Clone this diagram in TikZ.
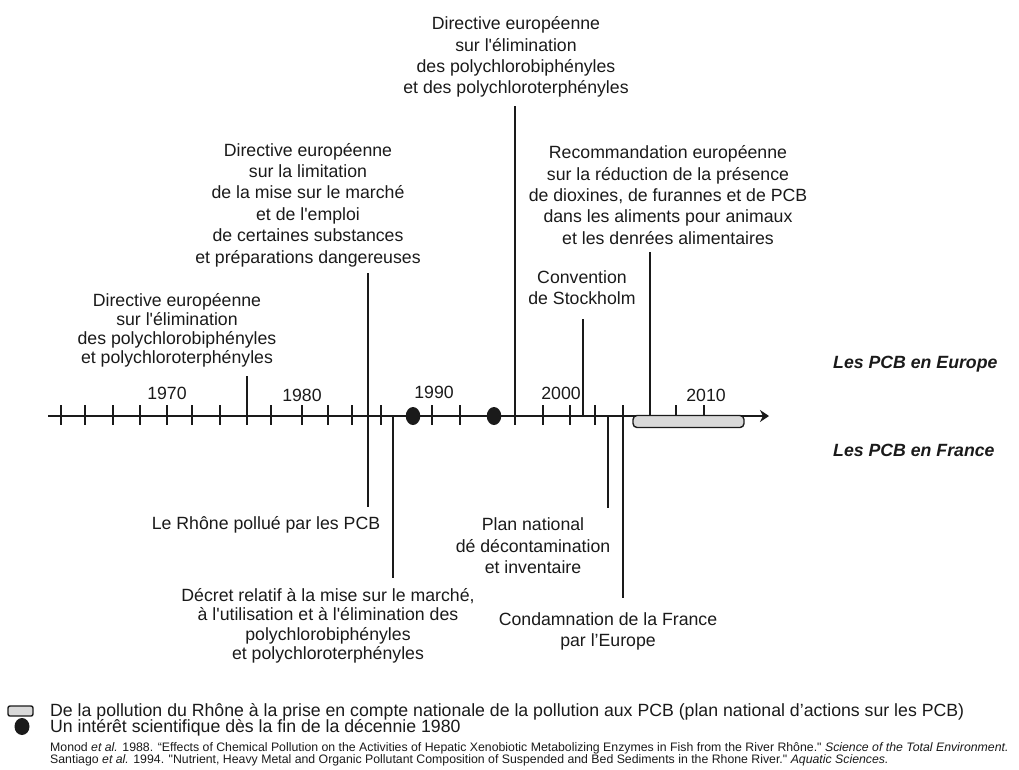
\documentclass[tikz,border=0pt]{standalone}
\usepackage{fontspec}
\newfontfamily\arialf{Liberation Sans}
\usetikzlibrary{arrows.meta,shapes.geometric}
\definecolor{ink}{HTML}{1A1A1A}
\definecolor{boxgray}{HTML}{D9D9D9}
\begin{document}
\begin{tikzpicture}[x=1pt,y=-1pt,
  lbl/.style={align=center, inner sep=0pt, text=ink, font=\arialf\fontsize{17.7}{#1}\selectfont},
  lbl/.default=21.3,
  yr/.style={inner sep=0pt, text=ink, font=\arialf\fontsize{17.7}{21}\selectfont},
  side/.style={inner sep=0pt, anchor=west, text=ink, font=\arialf\bfseries\itshape\fontsize{17.7}{21}\selectfont},
  legtext/.style={inner sep=0pt, anchor=west, text=ink, font=\arialf\fontsize{17.7}{21}\selectfont},
  reftext/.style={inner sep=0pt, anchor=base west, text=ink, font=\arialf\fontsize{12.3}{12}\selectfont},
  tickline/.style={draw=ink, line width=1.5pt},
  evline/.style={draw=ink, line width=1.6pt},
  axisline/.style={draw=ink, line width=1.8pt, -{Stealth[length=9pt,width=12pt]}},
  dotmark/.style={ellipse, fill=ink, minimum width=14.5pt, minimum height=18pt, inner sep=0pt},
  period/.style={draw=ink, fill=boxgray, line width=1.4pt, rounded corners=4pt, inner sep=0pt},
]
\useasboundingbox (0,0) rectangle (1019,769);

% axis
\coordinate (axL) at (48,416);
\coordinate (axR) at (769,416);
\draw[axisline] (axL) -- (axR);

% ticks
\foreach \x in {61,85,113,140,167,192,220,271,302,328,352,381,432,460,543,570,595}
  \draw[tickline] (\x,405) -- (\x,425);
\foreach \x in {676,704}
  \draw[tickline] (\x,405) -- (\x,416);

% event lines
\coordinate (a1) at (247,376); \coordinate (a2) at (247,425);
\coordinate (b1) at (368,273); \coordinate (b2) at (368,507);
\coordinate (g1) at (393,416); \coordinate (g2) at (393,578);
\coordinate (c1) at (515,106); \coordinate (c2) at (515,425);
\coordinate (e1) at (583,319); \coordinate (e2) at (583,416);
\coordinate (h1) at (608,416); \coordinate (h2) at (608,508);
\coordinate (i1) at (623,405); \coordinate (i2) at (623,598);
\coordinate (d1) at (650,252); \coordinate (d2) at (650,416);
\foreach \p in {a,b,g,c,e,h,i,d}
  \draw[evline] (\p1) -- (\p2);

% period box and dots
\node[period, minimum width=111pt, minimum height=12pt] (per) at (688.5,421.5) {};
\node[dotmark] (dot1) at (413,416) {};
\node[dotmark] (dot2) at (494,416) {};

% years
\node[yr] (y1970) at (167,393) {1970};
\node[yr] (y1980) at (302,395) {1980};
\node[yr] (y1990) at (434,392) {1990};
\node[yr] (y2000) at (561,393) {2000};
\node[yr] (y2010) at (706,395) {2010};

% labels above
\node[lbl=19] (labA) at (177,330) {Directive européenne\\sur l'élimination\\des polychlorobiphényles\\et polychloroterphényles};
\node[lbl=21.4] (labB) at (308,205) {Directive européenne\\sur la limitation\\de la mise sur le marché\\et de l'emploi\\de certaines substances\\et préparations dangereuses};
\node[lbl=21.3] (labC) at (516,57) {Directive européenne\\sur l'élimination\\des polychlorobiphényles\\et des polychloroterphényles};
\node[lbl=21.4] (labD) at (668,195) {Recommandation européenne\\sur la réduction de la présence\\de dioxines, de furannes et de PCB\\dans les aliments pour animaux\\et les denrées alimentaires};
\node[lbl=21] (labE) at (582,288) {Convention\\de Stockholm};

% labels below
\node[lbl] (labF) at (266,525) {Le Rhône pollué par les PCB};
\node[lbl=19.5] (labG) at (328,626) {Décret relatif à la mise sur le marché,\\à l'utilisation et à l'élimination des\\polychlorobiphényles\\et polychloroterphényles};
\node[lbl=21.5] (labH) at (533,546) {Plan national\\dé décontamination\\et inventaire};
\node[lbl=21] (labI) at (608,631) {Condamnation de la France\\par l’Europe};

% side labels
\node[side] (eu) at (833,364) {Les PCB en Europe};
\node[side] (fr) at (833,450) {Les PCB en France};

% legend
\node[period, rounded corners=2pt, minimum width=25pt, minimum height=10pt] (legbox) at (20.5,711) {};
\node[legtext] (legA) at (50,711.5) {De la pollution du Rhône à la prise en compte nationale de la pollution aux PCB (plan national d’actions sur les PCB)};
\node[dotmark, minimum width=15pt, minimum height=17pt] (legdot) at (22,726.5) {};
\node[legtext] (legB) at (50,727.5) {Un intérêt scientifique dès la fin de la décennie 1980};
\node[reftext] (refA) at (50,751.5) {Monod \textit{et al.} 1988. “Effects of Chemical Pollution on the Activities of Hepatic Xenobiotic Metabolizing Enzymes in Fish from the River Rhône." \textit{Science of the Total Environment.}};
\node[reftext] (refB) at (50,763.5) {Santiago \textit{et al.} 1994. "Nutrient, Heavy Metal and Organic Pollutant Composition of Suspended and Bed Sediments in the Rhone River." \textit{Aquatic Sciences.}};
\end{tikzpicture}
\end{document}
